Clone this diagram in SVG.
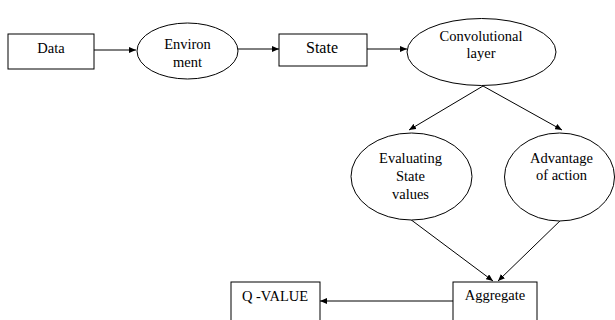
<svg xmlns="http://www.w3.org/2000/svg" width="615" height="320" viewBox="0 0 615 320">
<defs>
<marker id="ah" markerWidth="8" markerHeight="6" refX="7" refY="3" orient="auto" markerUnits="userSpaceOnUse">
<path d="M0,0 L7,3 L0,6 Z" fill="#000"/>
</marker>
<style>
.n{fill:#fff;stroke:#000;stroke-width:1}
.t{font-family:'Liberation Serif','Times New Roman','DejaVu Serif',serif;font-size:14.5px;fill:#000;text-anchor:middle}
.c{stroke:#000;stroke-width:1;fill:none;marker-end:url(#ah)}
</style>
</defs>
<rect width="615" height="320" fill="#fff"/>
<g id="connectors">
<line class="c" x1="94" y1="50" x2="136" y2="50"/>
<line class="c" x1="238" y1="49" x2="279" y2="49"/>
<line class="c" x1="367" y1="49" x2="407" y2="49"/>
<line class="c" x1="483" y1="86" x2="409" y2="130"/>
<line class="c" x1="483" y1="86" x2="562" y2="130"/>
<line class="c" x1="410" y1="219" x2="493" y2="281"/>
<line class="c" x1="564" y1="217" x2="498" y2="281"/>
<line class="c" x1="453" y1="301" x2="320" y2="301"/>
</g>
<g id="data">
<rect class="n" x="8" y="34" width="86" height="35"/>
<text class="t" x="51" y="53">Data</text>
</g>
<g id="environment">
<ellipse class="n" cx="187.5" cy="51" rx="50.5" ry="28"/>
<text class="t" x="187.5" y="49">Environ</text>
<text class="t" x="187.5" y="67">ment</text>
</g>
<g id="state">
<rect class="n" x="279" y="34" width="88" height="32"/>
<text class="t" x="322" y="53" style="font-size:16px">State</text>
</g>
<g id="conv">
<ellipse class="n" cx="481.5" cy="52" rx="74.5" ry="33.5"/>
<text class="t" x="481" y="41">Convolutional</text>
<text class="t" x="481" y="57.5">layer</text>
</g>
<g id="evaluating">
<ellipse class="n" cx="411.5" cy="176.5" rx="60.5" ry="43.5"/>
<text class="t" x="410.5" y="163">Evaluating</text>
<text class="t" x="410.5" y="181">State</text>
<text class="t" x="410.5" y="199">values</text>
</g>
<g id="advantage">
<ellipse class="n" cx="559.5" cy="177" rx="55" ry="44"/>
<text class="t" x="561.5" y="163">Advantage</text>
<text class="t" x="561.5" y="180">of action</text>
</g>
<g id="aggregate">
<rect class="n" x="453" y="282" width="84" height="45"/>
<text class="t" x="495" y="300">Aggregate</text>
</g>
<g id="qvalue">
<rect class="n" x="231" y="282" width="89" height="45"/>
<text class="t" x="275" y="301">Q -VALUE</text>
</g>
</svg>
